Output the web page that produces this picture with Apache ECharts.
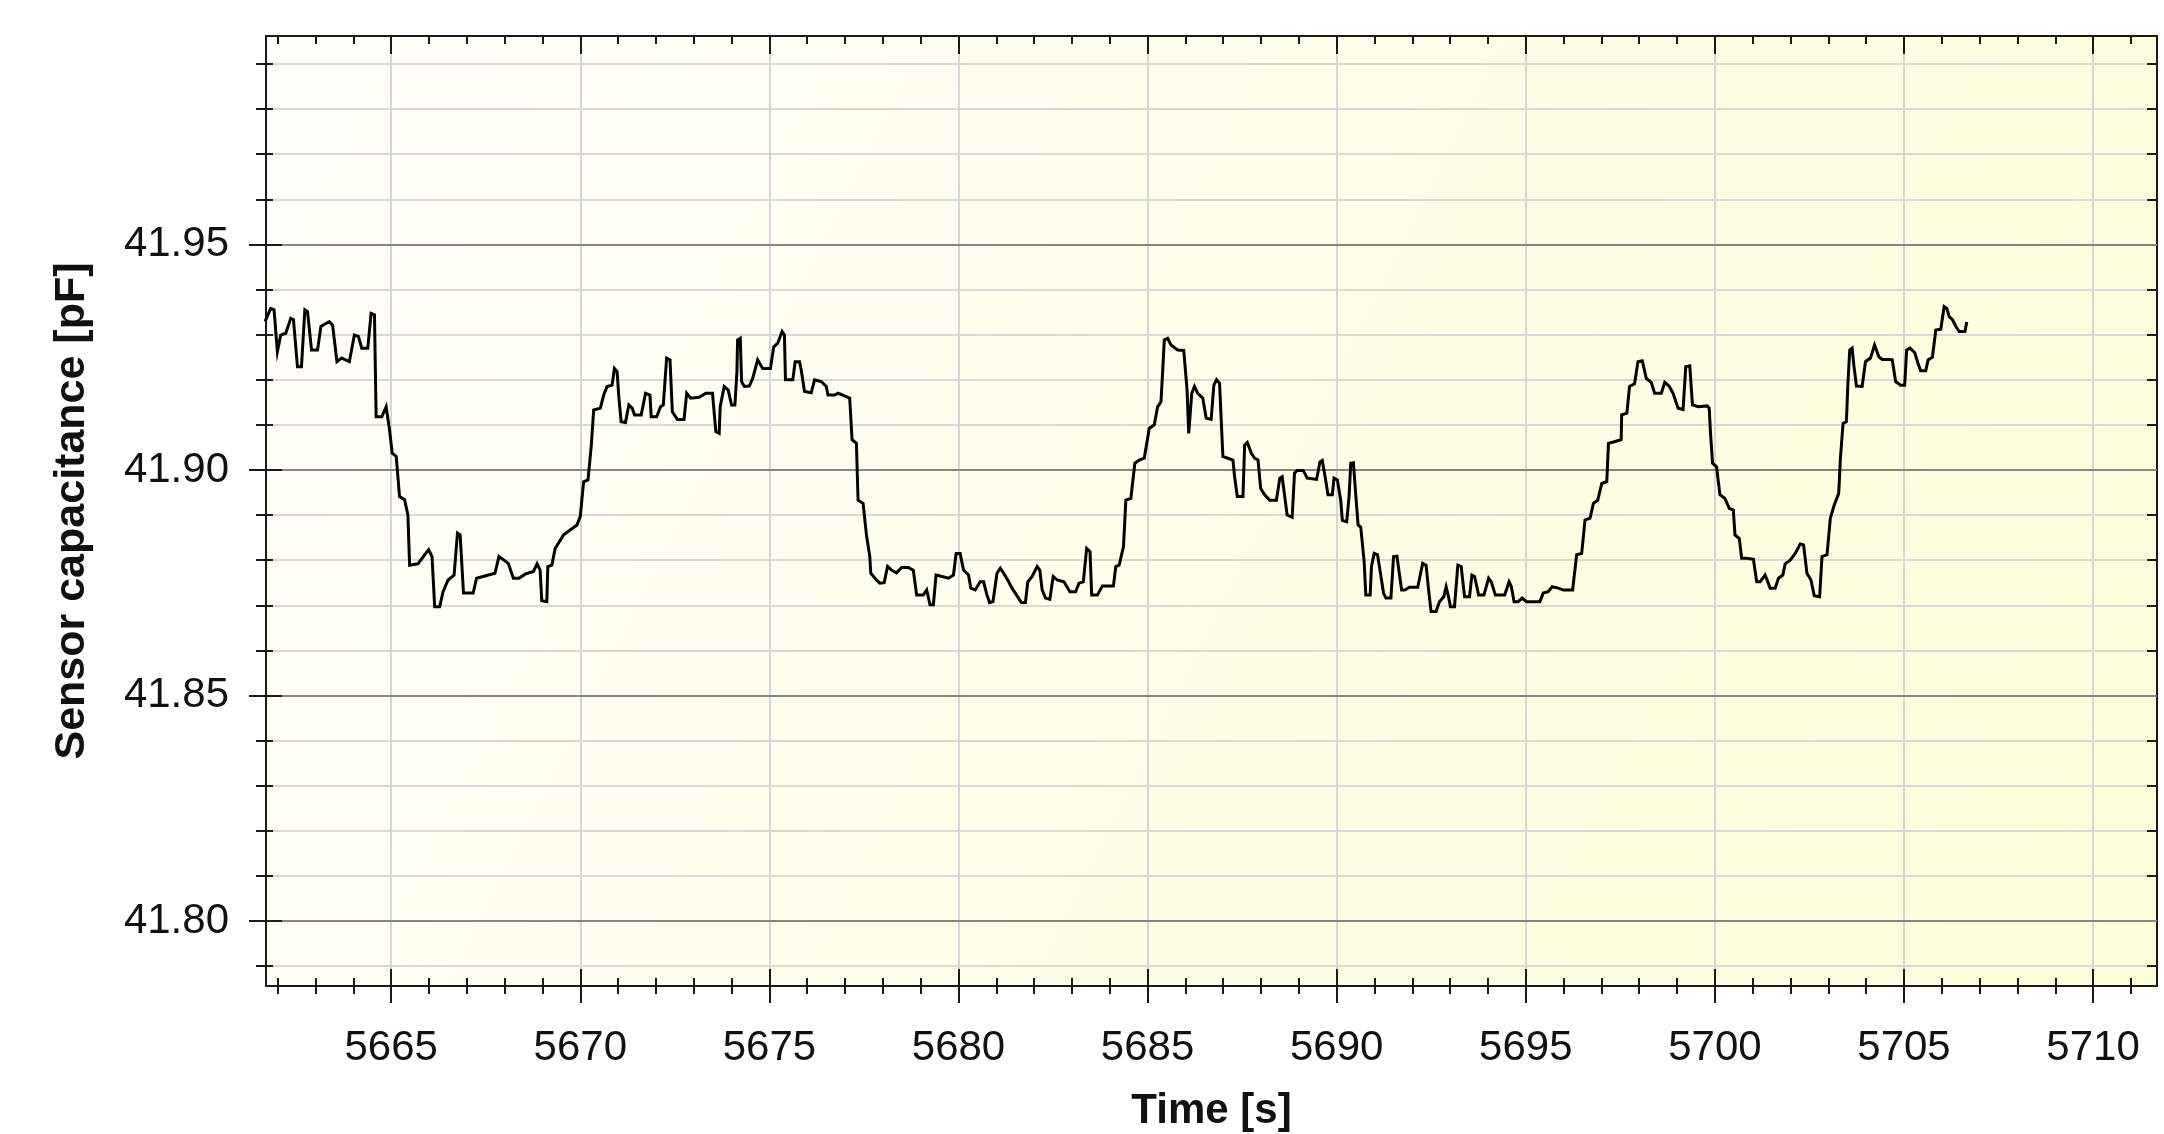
<!DOCTYPE html>
<html><head><meta charset="utf-8">
<script src="https://cdn.jsdelivr.net/npm/echarts@6/dist/echarts.min.js"></script>
<style>html,body{margin:0;padding:0;background:#fff}#c{width:2164px;height:1134px}</style>
</head><body><div id="c"></div>
<script>
const time = [
5661.664,5661.814,5661.903,5661.991,5662.080,5662.212,5662.345,5662.416,5662.522,5662.628,
5662.717,5662.788,5662.894,5663.053,5663.142,5663.363,5663.451,5663.566,5663.690,5663.894,
5664.027,5664.133,5664.221,5664.381,5664.469,5664.558,5664.602,5664.752,5664.867,5664.956,
5665.027,5665.133,5665.221,5665.354,5665.442,5665.487,5665.708,5665.885,5665.991,5666.080,
5666.150,5666.283,5666.372,5666.504,5666.664,5666.752,5666.823,5666.912,5667.168,5667.257,
5667.478,5667.743,5667.850,5668.097,5668.230,5668.381,5668.540,5668.761,5668.858,5668.938,
5668.982,5669.115,5669.142,5669.248,5669.336,5669.558,5669.912,5670.000,5670.088,5670.204,
5670.292,5670.354,5670.531,
5670.619,5670.708,5670.841,5670.903,5670.973,5671.018,5671.080,5671.195,5671.283,5671.372,
5671.434,5671.611,5671.726,5671.841,5671.876,5672.018,5672.124,5672.195,5672.283,5672.372,
5672.434,5672.566,5672.743,5672.814,5672.920,5673.142,5673.319,5673.496,5673.584,5673.673,
5673.699,5673.805,5673.912,5674.000,5674.088,5674.142,5674.159,5674.230,5674.265,5674.336,
5674.469,5674.558,5674.690,5674.823,5675.027,5675.115,5675.221,5675.336,5675.398,5675.425,
5675.619,5675.681,5675.796,5675.841,5675.929,5676.106,5676.195,5676.372,5676.504,5676.549,
5676.726,5676.814,5676.991,5677.124,5677.186,5677.301,5677.345,5677.478,5677.566,5677.655,
5677.681,5677.832,5677.920,5678.035,5678.124,5678.230,5678.363,5678.496,5678.673,5678.805,
5678.894,5679.071,5679.159,5679.248,5679.336,5679.407,5679.513,
5679.735,5679.867,5679.938,5680.044,5680.133,5680.265,5680.327,5680.442,5680.575,5680.664,
5680.752,5680.823,5680.912,5681.018,5681.106,5681.195,5681.327,5681.416,5681.531,5681.664,
5681.770,5681.832,5681.947,5682.080,5682.150,5682.212,5682.301,5682.416,5682.504,5682.611,
5682.788,5682.947,5683.097,5683.186,5683.301,5683.389,5683.478,5683.522,5683.673,5683.805,
5684.097,5684.159,5684.248,5684.363,5684.425,5684.558,5684.602,5684.664,5684.779,5684.912,
5685.044,5685.177,5685.265,5685.354,5685.398,5685.442,5685.531,5685.619,5685.796,5685.956,
5686.044,5686.088,5686.133,5686.168,5686.239,5686.327,5686.460,5686.549,5686.681,5686.752,
5686.823,5686.903,5686.947,5686.991,5687.124,5687.257,5687.301,5687.372,5687.522,5687.566,
5687.637,5687.743,5687.832,5687.920,5687.991,5688.097,5688.230,5688.407,5688.496,5688.558,
5688.690,5688.823,5688.885,5688.956,5689.115,5689.221,5689.469,5689.558,5689.619,5689.708,
5689.770,5689.885,5689.929,5690.018,5690.106,5690.150,5690.265,5690.327,5690.372,5690.442,
5690.504,5690.566,5690.637,5690.726,5690.770,5690.885,5690.920,5690.991,5691.080,5691.150,
5691.239,5691.301,5691.434,5691.504,5691.593,5691.655,5691.717,5691.805,5691.920,5692.142,
5692.274,5692.363,5692.425,5692.496,5692.628,5692.717,5692.832,5692.894,5692.956,5693.009,
5693.115,5693.204,5693.292,5693.381,5693.513,5693.575,5693.646,5693.752,5693.894,5694.018,
5694.088,5694.195,5694.442,5694.558,5694.619,5694.690,5694.796,5694.903,5695.018,5695.372,
5695.460,5695.593,5695.699,5695.858,5695.991,5696.239,5696.283,5696.345,5696.478,5696.566,
5696.699,5696.788,5696.903,5697.009,5697.142,5697.186,5697.363,5697.522,
5697.535,5697.673,5697.743,5697.876,5697.965,5698.080,5698.186,5698.319,5698.407,5698.584,
5698.673,5698.788,5698.894,5699.027,5699.159,5699.230,5699.336,5699.407,5699.558,5699.796,
5699.850,5699.885,5699.938,5700.044,5700.133,5700.265,5700.381,5700.487,5700.531,5700.646,
5700.708,5700.841,5701.018,5701.106,5701.195,5701.327,5701.372,5701.460,5701.593,5701.681,
5701.796,5701.858,5701.991,5702.124,5702.257,5702.345,5702.434,5702.540,5702.628,5702.770,
5702.832,5702.965,5703.053,5703.142,5703.274,5703.319,5703.389,5703.478,5703.513,5703.566,
5703.628,5703.673,5703.743,5703.894,5703.982,5704.115,5704.221,5704.336,5704.425,5704.602,
5704.690,5704.779,5704.912,5705.018,5705.071,5705.159,5705.283,5705.372,5705.442,5705.575,
5705.637,5705.752,5705.841,5705.973,5706.062,5706.133,5706.195,5706.283,5706.372,5706.460,
5706.611,5706.660
];
const capacitance = [
41.9329,41.9358,41.9355,41.9262,41.9299,41.9303,41.9336,41.9333,41.9229,41.9229,
41.9355,41.9351,41.9266,41.9266,41.9318,41.9329,41.9321,41.9240,41.9248,41.9240,
41.9299,41.9296,41.9270,41.9270,41.9347,41.9344,41.9118,41.9118,41.9140,41.9089,
41.9037,41.9030,41.8941,41.8934,41.8900,41.8789,41.8792,41.8812,41.8823,41.8808,
41.8697,41.8697,41.8730,41.8756,41.8767,41.8860,41.8856,41.8727,41.8727,41.8760,
41.8765,41.8771,41.8808,41.8793,41.8760,41.8760,41.8769,41.8775,41.8792,41.8778,
41.8710,41.8708,41.8786,41.8789,41.8826,41.8856,41.8878,41.8897,41.8974,41.8978,
41.9055,41.9133,41.9137,
41.9166,41.9185,41.9188,41.9225,41.9218,41.9163,41.9107,41.9105,41.9144,41.9137,
41.9122,41.9122,41.9170,41.9166,41.9118,41.9118,41.9140,41.9144,41.9248,41.9244,
41.9129,41.9112,41.9112,41.9170,41.9159,41.9161,41.9170,41.9170,41.9085,41.9081,
41.9140,41.9185,41.9177,41.9144,41.9144,41.9218,41.9288,41.9292,41.9196,41.9185,
41.9186,41.9203,41.9244,41.9225,41.9225,41.9273,41.9281,41.9307,41.9299,41.9200,
41.9200,41.9240,41.9240,41.9222,41.9174,41.9171,41.9200,41.9196,41.9185,41.9166,
41.9166,41.9170,41.9164,41.9159,41.9067,41.9059,41.8933,41.8926,41.8856,41.8808,
41.8771,41.8756,41.8749,41.8750,41.8786,41.8778,41.8772,41.8784,41.8784,41.8778,
41.8723,41.8723,41.8734,41.8701,41.8701,41.8767,41.8765,
41.8760,41.8767,41.8815,41.8815,41.8778,41.8767,41.8738,41.8734,41.8752,41.8752,
41.8723,41.8706,41.8708,41.8771,41.8782,41.8771,41.8752,41.8738,41.8723,41.8706,
41.8706,41.8752,41.8764,41.8786,41.8778,41.8734,41.8716,41.8713,41.8764,41.8756,
41.8752,41.8730,41.8730,41.8749,41.8752,41.8826,41.8819,41.8723,41.8723,41.8743,
41.8743,41.8786,41.8789,41.8830,41.8933,41.8937,41.8970,41.9015,41.9022,41.9026,
41.9092,41.9100,41.9140,41.9151,41.9218,41.9288,41.9292,41.9277,41.9266,41.9265,
41.9177,41.9081,41.9081,41.9170,41.9185,41.9170,41.9159,41.9115,41.9112,41.9188,
41.9200,41.9192,41.9111,41.9030,41.9026,41.9022,41.8985,41.8941,41.8941,41.9055,
41.9061,41.9037,41.9026,41.9022,41.8959,41.8945,41.8933,41.8933,41.8982,41.8985,
41.8900,41.8895,41.8993,41.8999,41.8999,41.8982,41.8979,41.9018,41.9021,41.8978,
41.8945,41.8945,41.8982,41.8978,41.8933,41.8888,41.8885,41.8941,41.9015,41.9016,
41.8945,41.8878,41.8873,41.8797,41.8723,41.8723,41.8786,41.8815,41.8812,41.8775,
41.8727,41.8716,41.8716,41.8808,41.8809,41.8771,41.8734,41.8734,41.8740,41.8740,
41.8793,41.8789,41.8738,41.8686,41.8686,41.8708,41.8719,41.8741,41.8719,41.8697,
41.8697,41.8789,41.8786,41.8719,41.8719,41.8767,41.8764,41.8723,41.8723,41.8760,
41.8752,41.8723,41.8723,41.8752,41.8741,41.8708,41.8708,41.8716,41.8708,41.8708,
41.8727,41.8730,41.8741,41.8738,41.8734,41.8734,41.8767,41.8812,41.8815,41.8889,
41.8893,41.8926,41.8933,41.8970,41.8974,41.9059,41.9063,41.9067,
41.9122,41.9126,41.9185,41.9191,41.9240,41.9242,41.9203,41.9194,41.9170,41.9170,
41.9194,41.9186,41.9170,41.9137,41.9134,41.9229,41.9231,41.9144,41.9140,41.9142,
41.9137,41.9081,41.9015,41.9007,41.8945,41.8937,41.8915,41.8911,41.8856,41.8848,
41.8804,41.8804,41.8802,41.8752,41.8752,41.8767,41.8758,41.8738,41.8738,41.8760,
41.8767,41.8792,41.8800,41.8815,41.8836,41.8834,41.8771,41.8756,41.8721,41.8719,
41.8808,41.8812,41.8893,41.8919,41.8948,41.9026,41.9103,41.9107,41.9185,41.9266,
41.9270,41.9233,41.9186,41.9185,41.9240,41.9248,41.9277,41.9251,41.9245,41.9245,
41.9244,41.9196,41.9188,41.9188,41.9266,41.9270,41.9260,41.9236,41.9220,41.9220,
41.9244,41.9250,41.9310,41.9312,41.9362,41.9358,41.9340,41.9333,41.9318,41.9307,
41.9307,41.9328
];
const xMajorTicks = [5665,5670,5675,5680,5685,5690,5695,5700,5705,5710];
const xMinorTicks = [5662,5663,5664,5665,5666,5667,5668,5669,5670,5671,5672,5673,5674,5675,5676,5677,5678,5679,5680,
  5681,5682,5683,5684,5685,5686,5687,5688,5689,5690,5691,5692,5693,5694,5695,5696,5697,5698,5699,5700,
  5701,5702,5703,5704,5705,5706,5707,5708,5709,5710,5711];
const yMajorTicks = [41.80,41.85,41.90,41.95];
const yMinorTicks = [41.79,41.80,41.81,41.82,41.83,41.84,41.85,41.86,41.87,41.88,41.89,41.90,41.91,41.92,41.93,41.94,41.95,41.96,41.97,41.98,41.99];
const xRange = [5661.69, 5711.69];
const yRange = [41.7856, 41.9962];
const xTitle = 'Time [s]';
const yTitle = 'Sensor capacitance [pF]';

const FONT = "'Liberation Sans', Arial, sans-serif";
const AX = '#1a1a1a';
const chart = echarts.init(document.getElementById('c'), null, {renderer:'canvas'});

function xAx(o){
  return Object.assign({
    type:'value', min:xRange[0], max:xRange[1], position:'bottom',
    axisLine:{show:false, onZero:false},
    axisTick:{show:false}, axisLabel:{show:false}, splitLine:{show:false}, minorTick:{show:false}
  }, o);
}
function yAx(o){
  return Object.assign({
    type:'value', min:yRange[0], max:yRange[1], position:'left',
    axisLine:{show:false, onZero:false},
    axisTick:{show:false}, axisLabel:{show:false}, splitLine:{show:false}, minorTick:{show:false}
  }, o);
}
const tick = (vals, len, inside) => ({show:true, customValues:vals, length:len, inside:inside, lineStyle:{color:AX, width:2}});

const option = {
  animation:false,
  backgroundColor:'#ffffff',
  grid:{
    left:266, top:36, width:1891, height:950, show:true, borderWidth:0,
    outerBoundsMode:'none', containLabel:false,
    backgroundColor:new echarts.graphic.LinearGradient(0,0,1,1,[{offset:0,color:'#fffffa'},{offset:1,color:'#fdfdd8'}])
  },
  xAxis:[
    xAx({
      axisLine:{show:true, onZero:false, lineStyle:{color:AX, width:2}},
      axisTick:tick(xMajorTicks,17,false),
      axisLabel:{show:true, customValues:xMajorTicks, margin:41, fontSize:42, color:'#111', fontFamily:FONT,
        formatter:v=>String(Math.round(v))},
      splitLine:{show:true, lineStyle:{color:'#d6d6da', width:2}},
      name:xTitle, nameLocation:'middle', nameGap:104,
      nameTextStyle:{fontSize:42, fontWeight:'bold', color:'#111', fontFamily:FONT}
    }),
    xAx({axisTick:tick(xMajorTicks,17,true)}),
    xAx({axisTick:tick(xMinorTicks,8,false)}),
    xAx({axisTick:tick(xMinorTicks,8,true)}),
    xAx({position:'top', axisLine:{show:true, onZero:false, lineStyle:{color:AX, width:2}}, axisTick:tick(xMajorTicks,18,true)}),
    xAx({position:'top', axisTick:tick(xMinorTicks,8,true)})
  ],
  yAxis:[
    yAx({
      axisLine:{show:true, onZero:false, lineStyle:{color:AX, width:2}},
      axisTick:tick(yMajorTicks,17,false),
      axisLabel:{show:true, customValues:yMajorTicks, margin:37, fontSize:42, color:'#111', fontFamily:FONT,
        formatter:v=>v.toFixed(2)},
      name:yTitle, nameLocation:'middle', nameGap:172,
      nameTextStyle:{fontSize:43, fontWeight:'bold', color:'#111', fontFamily:FONT}
    }),
    yAx({z:1, axisTick:tick(yMajorTicks,16,true), splitLine:{show:true, lineStyle:{color:'#858585', width:2}}}),
    yAx({z:0, axisTick:tick(yMinorTicks,10,false), splitLine:{show:true, lineStyle:{color:'#d9d9d9', width:2}}}),
    yAx({axisTick:tick(yMinorTicks,7,true)}),
    yAx({position:'right', axisLine:{show:true, onZero:false, lineStyle:{color:AX, width:2}}, axisTick:tick(yMajorTicks,18,true)}),
    yAx({position:'right', axisTick:tick(yMinorTicks,10,true)})
  ],
  series:[{
    type:'line', xAxisIndex:0, yAxisIndex:0, z:5,
    data:time.map((t,i)=>[t, capacitance[i]]),
    showSymbol:false, symbol:'none',
    lineStyle:{color:'#000', width:3, join:'miter'},
    clip:true
  }]
};
chart.setOption(option);
</script>
</body></html>
